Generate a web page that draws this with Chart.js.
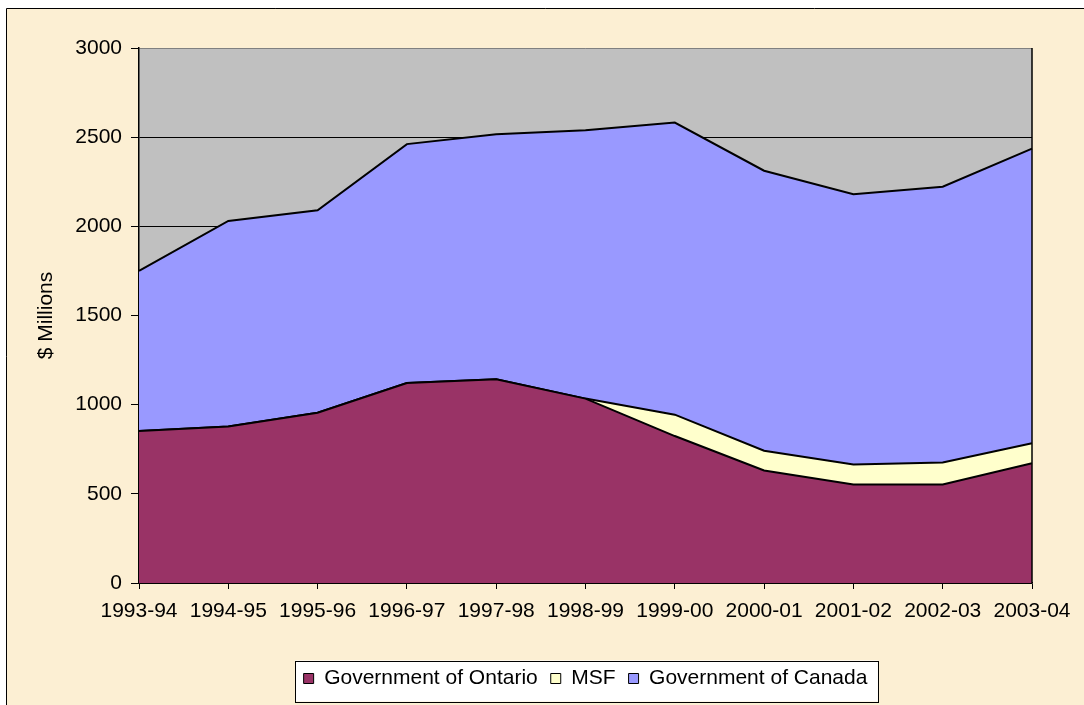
<!DOCTYPE html>
<html>
<head>
<meta charset="utf-8">
<script src="https://cdn.jsdelivr.net/npm/chart.js@4.4.1/dist/chart.umd.min.js"></script>
<style>
    html, body { margin: 0; padding: 0; background: #ffffff; }
    #wrap { width: 1084px; height: 705px; position: relative; }
</style>
</head>
<body>
<div id="wrap"><canvas id="fundingChart"></canvas></div>
<script>
const years = ["1993-94", "1994-95", "1995-96", "1996-97", "1997-98", "1998-99",
               "1999-00", "2000-01", "2001-02", "2002-03", "2003-04"];
const ontario = [852, 878, 955, 1121, 1142, 1034, 824, 631, 552, 552, 672];
const msf = [0, 0, 0, 0, 0, 0, 120, 111, 113, 124, 112];
const canada = [898, 1152, 1135, 1340, 1375, 1505, 1638, 1570, 1515, 1546, 1652];
const yTicks = [0, 500, 1000, 1500, 2000, 2500, 3000];

const FONT = "'Liberation Sans', Arial, sans-serif";

const backdrop = {
    id: "backdrop",
    beforeDraw: function (chart) {
        const ctx = chart.ctx;
        const area = chart.chartArea;
        ctx.save();
        // page background with the frame on the left and top
        ctx.fillStyle = "#ffffff";
        ctx.fillRect(0, 0, chart.width, chart.height);
        ctx.fillStyle = "#fcefd3";
        ctx.fillRect(7, 8, chart.width - 7, chart.height - 8);
        ctx.strokeStyle = "#000000";
        ctx.lineWidth = 1;
        ctx.beginPath();
        ctx.moveTo(6.5, chart.height);
        ctx.lineTo(6.5, 8.5);
        ctx.lineTo(chart.width, 8.5);
        ctx.stroke();

        // plot area
        ctx.fillStyle = "#c0c0c0";
        ctx.fillRect(area.left, area.top, area.right - area.left, area.bottom - area.top);

        // legend frame
        const boxes = chart.legend.legendHitBoxes;
        if (boxes && boxes.length) {
            const first = boxes[0];
            const last = boxes[boxes.length - 1];
            const left = first.left - 8.5;
            const right = last.left + last.width + 10.5;
            const cy = first.top + first.height / 2;
            ctx.fillStyle = "#ffffff";
            ctx.fillRect(left, cy - 18, right - left, 41);
            ctx.strokeRect(Math.round(left) + 0.5, Math.round(cy - 18) + 0.5, Math.round(right - left), 41);
        }
        ctx.restore();
    },
    afterDatasetsDraw: function (chart) {
        const ctx = chart.ctx;
        const area = chart.chartArea;
        ctx.save();
        ctx.strokeStyle = "#000000";
        ctx.lineWidth = 1.5;
        ctx.beginPath();
        ctx.moveTo(area.right, area.top);
        ctx.lineTo(area.right, area.bottom);
        ctx.stroke();
        ctx.restore();
    }
};

function makeSeries(label, data, color, fill) {
    return {
        label: label,
        data: data,
        backgroundColor: color,
        borderColor: "#000000",
        borderWidth: 2,
        pointRadius: 0,
        pointHoverRadius: 0,
        tension: 0,
        fill: fill
    };
}

new Chart(document.getElementById("fundingChart"), {
    type: "line",
    data: {
        labels: years,
        datasets: [
            makeSeries("Government of Ontario", ontario, "#993366", "origin"),
            makeSeries("MSF", msf, "#ffffcc", "-1"),
            makeSeries("Government of Canada", canada, "#9999ff", "-1")
        ]
    },
    plugins: [backdrop],
    options: {
        responsive: true,
        maintainAspectRatio: false,
        animation: false,
        layout: {
            padding: { top: 48, left: 10, right: 52, bottom: 6 }
        },
        plugins: {
            tooltip: { enabled: false },
            legend: {
                position: "bottom",
                fullSize: false,
                labels: {
                    color: "#000000",
                    font: { family: FONT, size: 21 },
                    boxWidth: 10,
                    boxHeight: 10,
                    padding: 13,
                    generateLabels: function (chart) {
                        return chart.data.datasets.map(function (ds, i) {
                            return {
                                text: ds.label,
                                fillStyle: ds.backgroundColor,
                                strokeStyle: "#000000",
                                lineWidth: 1,
                                datasetIndex: i,
                                fontColor: "#000000"
                            };
                        });
                    }
                }
            }
        },
        scales: {
            x: {
                grid: {
                    drawOnChartArea: false,
                    tickLength: 6,
                    color: "#000000"
                },
                border: { color: "#000000", width: 1.5 },
                ticks: {
                    color: "#000000",
                    font: { family: FONT, size: 21 },
                    maxRotation: 0,
                    autoSkip: false,
                    padding: 10
                },
                afterFit: function (scale) { scale.height = 72; }
            },
            y: {
                stacked: true,
                min: 0,
                max: 3000,
                afterBuildTicks: function (scale) {
                    scale.ticks = yTicks.map(function (v) { return { value: v }; });
                },
                grid: {
                    color: function (ctx) {
                        return ctx.tick && ctx.tick.value === 3000 ? "#808080" : "#000000";
                    },
                    tickColor: "#000000",
                    tickLength: 8,
                    lineWidth: 1
                },
                border: { color: "#000000", width: 1.5 },
                ticks: {
                    color: "#000000",
                    font: { family: FONT, size: 21 },
                    padding: 9,
                    callback: function (value) { return String(value); }
                },
                title: {
                    display: true,
                    text: "$ Millions",
                    color: "#000000",
                    font: { family: FONT, size: 21 },
                    padding: { top: 24, bottom: 0 }
                },
                afterFit: function (scale) { scale.width = 129; }
            }
        }
    }
});
</script>
</body>
</html>
